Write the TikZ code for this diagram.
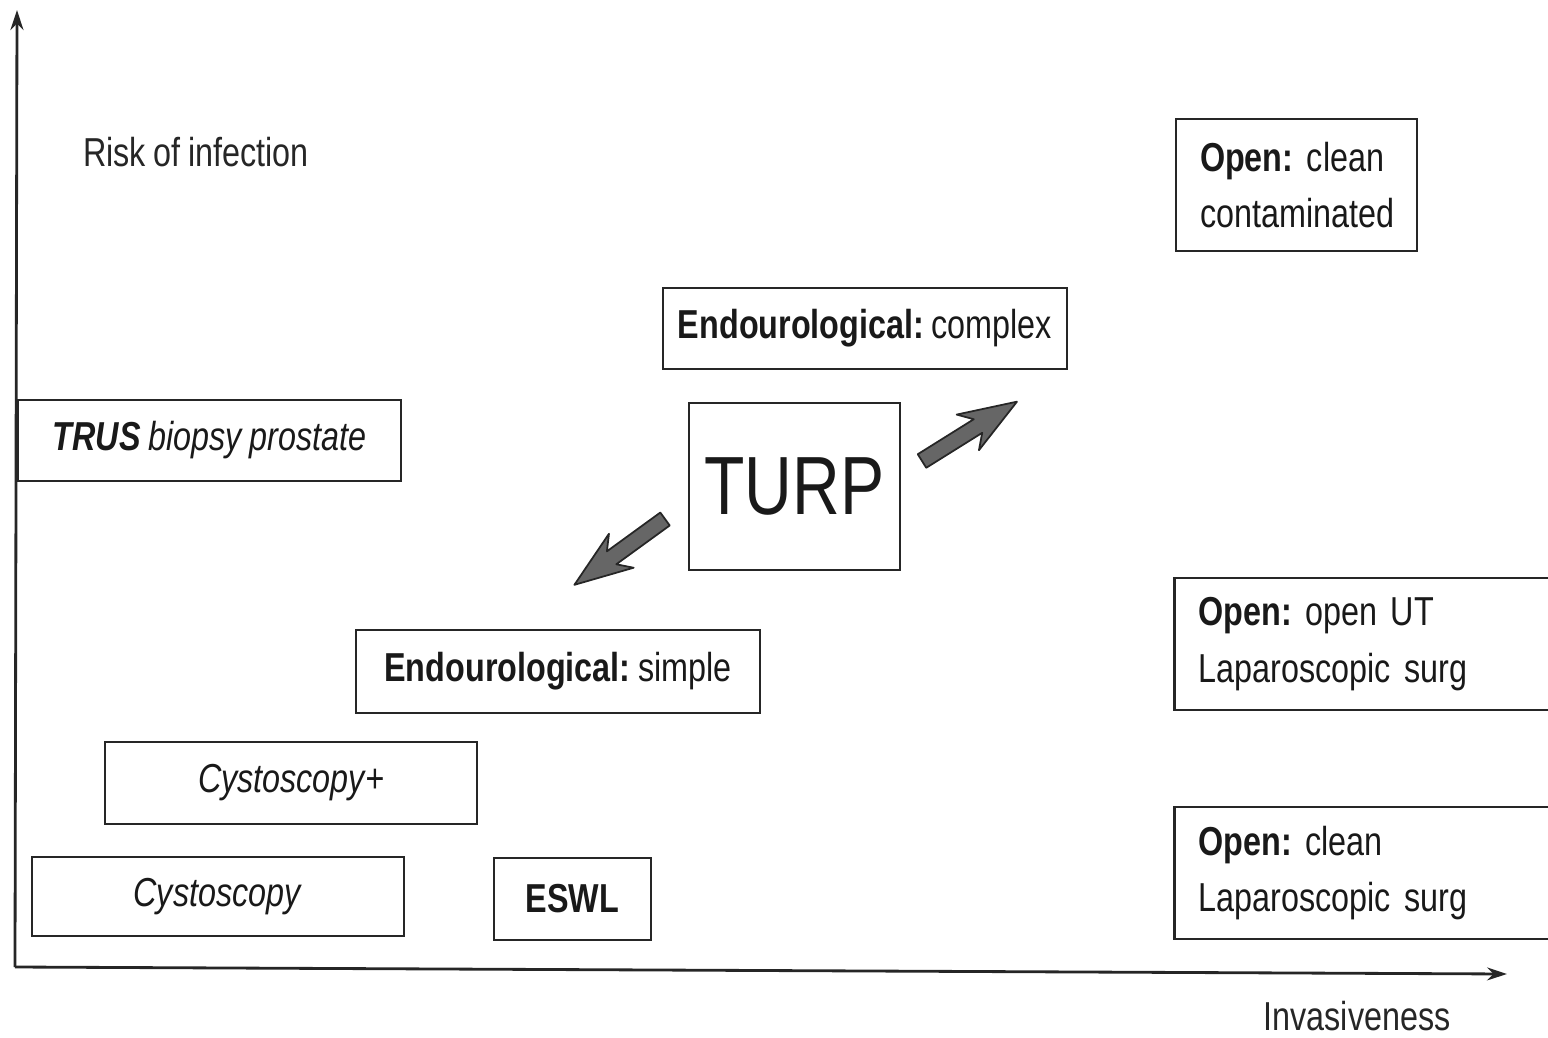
\documentclass[tikz,border=0pt]{standalone}
\usepackage{fontspec}
\setmainfont{Liberation Sans}[FakeStretch=0.8,WordSpace=0.85]
\usetikzlibrary{arrows.meta}
\frenchspacing

\tikzset{
  fat arrow/.pic={
    \draw[draw=black!85,fill=black!60,line width=1pt,line join=round]
      (0,-8) -- (66,-8) -- (54,-21) -- (112,0) -- (54,21) -- (66,8) -- (0,8) -- cycle;
  }
}

\begin{document}
\begin{tikzpicture}[x=0.2mm,y=-0.2mm,
    proc box/.style={rectangle,draw=black!85,line width=1.6pt,inner sep=0pt,
                     text=black!90,font=\fontsize{23}{32}\selectfont},
    open box/.style={proc box,anchor=west,align=left,text width=#1,inner xsep=4.8mm},
    axis/.style={draw=black!85,line width=1.6pt,-{Stealth[length=4mm,width=2.6mm]}},
    axis label/.style={text=black!85,inner sep=0pt,font=\fontsize{23}{28}\selectfont}]

  \useasboundingbox (0,0) rectangle (1548,1038);

  \coordinate (origin) at (15,967);
  \coordinate (ytip) at (17,10);
  \coordinate (xtip) at (1507,974);
  \draw[axis] (origin) -- (ytip);
  \draw[axis] (origin) -- (xtip);

  \node[axis label] (risk) at (196,152) {Risk of infection};
  \node[axis label] (inv) at (1357,1016) {Invasiveness};

  \node[proc box,minimum width=48.2mm,minimum height=26.4mm,align=left,
        text width=38.6mm,inner xsep=4.8mm] (openclean) at (1296.5,185)
        {\textbf{Open:} clean\\contaminated};
  \node[proc box,minimum width=80.8mm,minimum height=16.2mm] (complex) at (865,328.5)
        {\textbf{Endourological:} complex};
  \node[proc box,minimum width=76.6mm,minimum height=16.2mm] (trus) at (209.5,440.5)
        {\textit{\textbf{TRUS} biopsy prostate}};
  \node[proc box,minimum width=42.2mm,minimum height=33.4mm,
        font=\fontsize{47}{50}\selectfont] (turp) at (794.5,486.5) {TURP};
  \node[proc box,minimum width=80.8mm,minimum height=16.6mm] (simple) at (558,671.5)
        {\textbf{Endourological:} simple};
  \node[proc box,minimum width=74.4mm,minimum height=16.4mm] (cystoplus) at (291,783)
        {\textit{Cystoscopy+}};
  \node[proc box,minimum width=74.4mm,minimum height=15.8mm] (cysto) at (218,896.5)
        {\textit{Cystoscopy}};
  \node[proc box,minimum width=31.4mm,minimum height=16.4mm] (eswl) at (572.5,899)
        {\textbf{ESWL}};
  \node[open box=67.8mm,minimum height=26.4mm] (openut) at (1173,644)
        {\textbf{Open:} open UT\\Laparoscopic surg};
  \node[open box=67.8mm,minimum height=26.4mm] (openlap) at (1173,873)
        {\textbf{Open:} clean\\Laparoscopic surg};

  \pic (towardcomplex) [rotate=32] at (922,461) {fat arrow};
  \pic (towardsimple) [rotate=216] at (665,519) {fat arrow};
\end{tikzpicture}
\end{document}
